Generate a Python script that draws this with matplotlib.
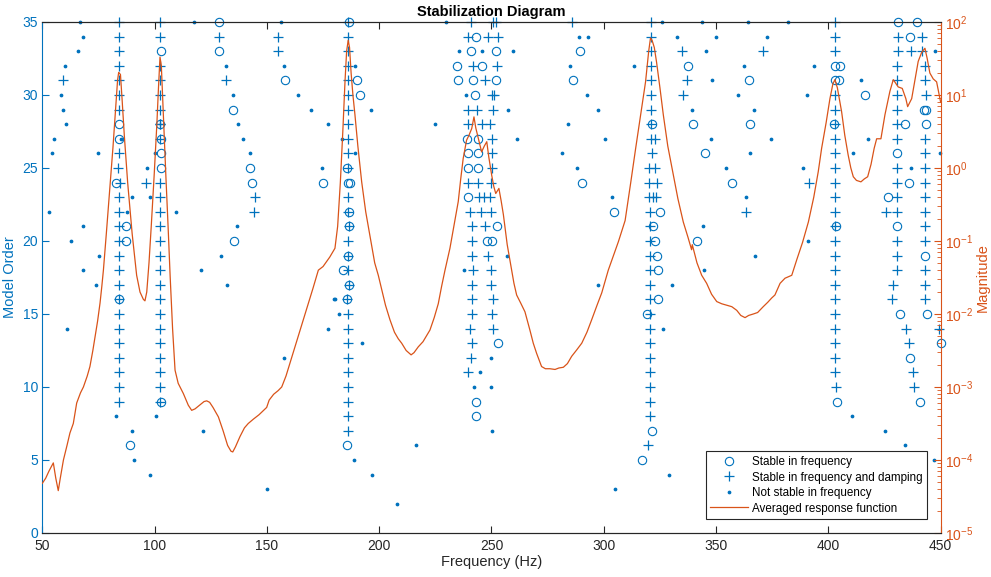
import numpy as np
import matplotlib
matplotlib.use("Agg")
import matplotlib.pyplot as plt
from matplotlib.ticker import FixedLocator, NullFormatter, LogFormatterMathtext

plt.rcParams['font.family'] = ['Liberation Sans', 'DejaVu Sans']

BLUE = '#0072BD'
ORANGE = '#D95319'
DARK = '#262626'

# ---------------- Data ----------------
# Stable in frequency and damping (+)
plus_hz = [
    # ~84 Hz column
    84.2, 84.2, 84.2, 84.2, 84.2, 84.2, 84.2, 84.2, 83.9, 84.5, 84.2, 84.2, 84.2,
    84.2, 84.2, 84.2, 84.2, 84.2, 84.2, 84.2, 84.2, 84.2, 84.2, 84.2, 84.2,
    # ~102 Hz column
    102.4, 102.4, 102.4, 102.4, 102.4, 102.4, 102.4, 102.4, 102.4, 102.4, 102.4,
    102.4, 102.4, 102.4, 102.4, 102.4, 102.4, 102.4, 102.4, 102.4, 102.4, 102.4,
    102.4, 102.4, 102.4,
    # scattered
    59.4, 96.0, 128.8, 155.1, 155.1, 131.9, 144.7, 144.4,
    # ~186 Hz column
    186.2, 186.2, 186.2, 186.2, 186.2, 186.2, 186.2, 186.2, 186.2, 186.2, 186.2,
    186.2, 186.2, 186.6, 186.2, 186.2, 186.2, 186.6, 185.5, 186.2, 186.2, 186.2,
    186.2, 186.2, 186.2, 186.2, 186.2, 186.2,
    # 240-253 Hz cluster
    240.7, 250.8, 251.9, 239.4, 248.6, 253.0, 241.6, 252.3, 247.1, 250.4, 251.2,
    239.4, 243.5, 250.8, 239.7, 245.9, 249.3, 250.1, 250.4, 250.1, 239.7, 244.0,
    249.8, 244.4, 246.8, 249.3, 240.4, 245.3, 249.8, 241.2, 247.1, 241.2, 241.2,
    248.6, 241.6, 249.8, 241.2, 249.8, 241.2, 250.6, 241.2, 250.1, 240.4, 250.6,
    241.2, 240.8, 239.4,
    285.7,
    # ~320 Hz column
    320.9, 320.9, 320.9, 320.9, 320.9, 320.9, 320.9, 320.9, 320.9, 322.8, 321.3,
    320.3, 322.8, 320.3, 323.5, 320.3, 321.9, 323.4,
    320.6, 320.6, 320.6, 320.6, 320.6, 320.6, 320.6, 320.6, 320.6, 320.6, 320.6,
    320.6, 320.6, 320.6, 320.6, 319.5,
    334.7, 336.9, 335.4, 371.0, 363.3, 391.5,
    # ~403 Hz column
    402.9, 402.9, 402.9, 402.9, 402.9, 402.9, 402.9, 402.9, 402.9, 402.9, 402.9,
    402.9, 402.9, 402.9, 402.9, 402.9, 402.9, 402.9, 402.9, 402.9, 402.9, 402.9,
    402.9, 403.5,
    # ~430 Hz column
    431.1, 431.1, 436.9, 430.4, 430.4, 430.4, 430.4, 430.4, 430.4, 430.4, 430.4,
    430.4, 425.6, 430.4, 430.4, 430.4, 430.4, 428.9, 428.5, 434.7, 436.1, 437.9,
    438.3,
    # ~443 Hz column
    441.5, 441.5, 443.0, 443.0, 443.3, 443.0, 443.0, 443.0, 443.0, 443.0, 443.0,
    443.0, 443.0, 443.0, 443.0, 443.0, 449.2,
]
plus_order = [
    35, 34, 33, 32, 31, 30, 29, 26, 25, 24, 23, 22, 21,
    20, 19, 18, 17, 16, 15, 14, 13, 12, 11, 10, 9,
    35, 34, 32, 31, 30, 29, 28, 27, 24, 23, 22,
    21, 20, 19, 18, 17, 16, 15, 14, 13, 12, 11,
    10, 9, 28,
    31, 24, 34, 34, 33, 31, 23, 22,
    35, 34, 33, 32, 31, 30, 29, 28, 27, 26, 25,
    23, 22, 21, 20, 19, 18, 17, 16, 15, 14, 13,
    12, 11, 10, 9, 8, 7,
    35, 35, 35, 34, 34, 34, 32, 32, 31, 30, 30,
    29, 29, 29, 28, 28, 28, 27, 26, 25, 24, 24,
    24, 23, 23, 23, 22, 22, 22, 21, 21, 20, 19,
    19, 18, 18, 17, 17, 16, 16, 15, 15, 14, 14,
    13, 12, 11,
    35,
    35, 34, 33, 32, 31, 30, 29, 28, 27, 27, 26,
    25, 25, 24, 24, 23, 23, 23,
    22, 21, 20, 19, 18, 17, 16, 15, 14, 13, 12,
    11, 10, 9, 8, 6,
    33, 31, 30, 33, 22, 24,
    35, 34, 33, 30, 29, 28, 27, 26, 25, 24, 23,
    22, 21, 20, 19, 18, 17, 16, 15, 14, 13, 12,
    11, 10,
    34, 33, 33, 32, 31, 30, 29, 28, 27, 25, 24,
    23, 22, 22, 20, 19, 18, 17, 16, 14, 13, 11,
    10,
    34, 33, 32, 31, 30, 27, 26, 25, 24, 23, 22,
    21, 20, 18, 17, 16, 14,
]

# Stable in frequency (o)
circ_hz = [
    84.0, 84.0, 82.7, 87.1, 87.1, 84.0, 89.2,
    102.7, 102.4, 102.7, 102.7, 102.7, 102.7,
    128.8, 128.8, 158.0, 134.7, 142.6, 143.3, 174.8, 135.5,
    186.4, 190.0, 191.5, 185.8, 186.2, 186.8, 186.6, 186.6, 186.2, 184.0, 186.6,
    185.5, 185.5,
    243.2, 241.0, 251.9, 234.5, 245.6, 234.9, 241.8, 251.9, 242.5, 238.9, 243.9,
    239.7, 243.8, 239.7, 244.0, 239.7, 252.3, 247.9, 250.1, 252.8, 243.2, 243.2,
    289.5, 286.2, 290.3, 304.4,
    321.3, 325.0, 322.0, 322.8, 323.8, 324.3, 324.0, 319.1, 321.5, 317.1,
    337.5, 364.6, 339.6, 365.2, 345.1, 357.2, 341.5,
    402.9, 405.1, 402.9, 404.7, 416.3, 402.6, 403.3, 403.7,
    431.1, 439.6, 436.3, 442.5, 443.3, 434.1, 443.3, 430.4, 435.9, 426.7, 430.4,
    443.0, 432.0, 443.8, 436.5, 440.8, 450.0,
]
circ_order = [
    28, 27, 24, 21, 20, 16, 6,
    33, 28, 27, 26, 25, 9,
    35, 33, 31, 29, 25, 24, 24, 20,
    35, 31, 30, 25, 24, 24, 22, 21, 19, 18, 17,
    16, 6,
    34, 33, 33, 32, 32, 31, 31, 31, 30, 27, 27,
    26, 26, 25, 25, 23, 21, 20, 20, 13, 9, 8,
    33, 31, 24, 22,
    28, 22, 21, 20, 19, 18, 16, 15, 7, 5,
    32, 31, 28, 28, 26, 24, 20,
    32, 32, 31, 31, 30, 28, 21, 9,
    35, 35, 34, 29, 29, 28, 28, 26, 24, 23, 21,
    19, 15, 15, 12, 9, 13,
]

# Not stable in frequency (.)
dot_hz = [
    66.8, 68.3, 65.8, 60.1, 58.3, 59.2, 60.6, 55.1, 85.0, 54.5, 74.7, 100.2, 96.5,
    89.9, 98.0, 52.8, 87.7, 109.5, 68.3, 62.8, 75.2, 68.3, 73.9, 60.9, 82.9, 100.6,
    90.1, 90.8, 98.0,
    117.7, 131.6, 157.4, 134.7, 164.0, 169.5, 137.2, 177.3, 139.5, 142.4, 174.5,
    136.7, 129.5, 120.8, 132.2, 180.0, 177.0, 157.7, 121.4, 150.2, 156.5,
    189.2, 196.5, 225.0, 183.4, 189.2, 180.2, 182.1, 192.3, 188.8, 196.8, 207.8,
    216.2, 229.6,
    235.5, 238.6, 245.6, 259.7, 289.1, 293.1, 285.1, 292.4, 257.3, 297.4, 284.2,
    261.2, 300.5, 281.3, 287.9, 303.6, 256.8, 237.8, 297.3, 249.8, 244.9, 242.3,
    249.8, 250.3, 304.9,
    325.8, 343.6, 364.3, 332.7, 349.8, 372.8, 345.5, 313.4, 362.3, 348.2, 359.9,
    339.3, 367.0, 347.6, 374.3, 365.2, 354.4, 363.3, 344.3, 367.3, 344.8, 330.2,
    326.5, 329.0,
    382.2, 447.5, 393.7, 414.5, 390.3, 417.5, 410.8, 449.8, 388.8, 436.7, 391.1,
    410.5, 425.3, 434.1, 447.1,
]
dot_order = [
    35, 34, 33, 32, 30, 29, 28, 27, 27, 26, 26, 26, 25,
    23, 23, 22, 22, 22, 21, 20, 19, 18, 17, 14, 8, 8,
    7, 5, 4,
    35, 32, 32, 30, 30, 29, 28, 28, 27, 26, 25,
    21, 19, 18, 17, 16, 14, 12, 7, 3, 35,
    32, 29, 28, 27, 26, 16, 15, 13, 5, 4, 2,
    6, 35,
    33, 30, 33, 33, 34, 34, 32, 30, 29, 29, 28,
    27, 27, 26, 25, 23, 19, 18, 17, 12, 11, 10,
    10, 7, 3,
    35, 35, 35, 34, 34, 34, 33, 32, 32, 31, 30,
    29, 29, 27, 27, 26, 25, 23, 21, 19, 18, 17,
    14, 4,
    35, 33, 32, 31, 30, 27, 26, 26, 25, 25, 20,
    8, 7, 6, 5,
]

# Averaged response function (frequency in Hz, log10 of magnitude)
resp_hz = [
    50.0, 51.5, 53.0, 54.9, 56.0, 57.1, 58.0, 59.4, 61.0, 62.3, 63.8, 65.3, 67.0,
    68.3, 70.0, 71.2, 72.5, 73.5, 74.6, 75.7, 76.5, 77.2, 78.5, 80.0, 81.5, 82.7,
    83.5, 84.0, 84.8, 85.5, 86.5, 88.0, 90.0, 92.0, 93.5, 95.0, 95.7, 96.5, 97.5,
    98.5, 99.8, 101.0, 101.8, 102.4, 103.0, 103.8, 105.0, 106.0, 106.9, 108.0,
    109.1, 110.5, 112.8, 115.0, 116.5, 118.0, 120.0, 122.0, 123.2, 124.5, 126.0,
    128.4, 130.5, 132.5, 134.0, 134.8, 136.0, 138.0, 140.0, 141.7, 144.0, 146.5,
    148.5, 149.9, 151.0, 153.0, 155.0, 156.6, 158.5, 160.5, 162.5, 164.5, 166.5,
    168.4, 170.5, 172.9, 175.0, 178.0, 180.3, 181.5, 182.7, 183.8, 184.8, 185.5,
    186.2, 186.8, 187.5, 188.3, 189.2, 190.5, 192.2, 194.0, 196.0, 198.0, 199.6,
    201.0, 202.8, 204.8, 206.8, 208.5, 210.0, 212.0, 214.2, 215.5, 217.4, 219.5,
    222.6, 224.5, 226.3, 227.8, 229.3, 231.5, 233.5, 235.2, 236.3, 237.4, 238.9,
    240.0, 241.2, 242.2, 243.0, 244.1, 245.6, 246.8, 247.9, 248.8, 250.1, 251.0,
    251.9, 253.3, 254.3, 255.3, 257.0, 259.0, 260.0, 261.2, 263.0, 264.9, 267.1,
    268.6, 270.1, 272.3, 274.0, 276.0, 278.3, 280.0, 282.0, 283.8, 285.7, 288.0,
    290.2, 292.5, 294.6, 297.0, 299.1, 302.0, 304.3, 306.5, 309.5, 312.0, 314.2,
    316.5, 318.6, 320.0, 320.8, 321.5, 322.5, 323.5, 325.0, 326.5, 328.5, 331.0,
    333.0, 335.4, 337.5, 339.1, 339.4, 341.5, 343.6, 345.8, 348.0, 350.3, 352.5,
    354.7, 357.0, 359.2, 361.0, 362.9, 364.5, 366.6, 368.5, 371.0, 373.0, 374.8,
    376.2, 378.5, 380.7, 383.7, 386.0, 388.5, 391.1, 393.5, 395.5, 397.0, 399.0,
    400.7, 402.0, 402.9, 404.0, 405.9, 407.3, 408.8, 410.0, 411.1, 412.5, 414.5,
    416.0, 417.5, 419.0, 420.4, 421.5, 423.4, 425.2, 427.4, 428.9, 431.1, 432.9,
    434.5, 435.3, 437.1, 438.5, 440.0, 441.5, 443.0, 444.0, 445.2, 446.7, 448.2,
    450.0,
]
resp_log10 = [
    -4.32, -4.25, -4.15, -4.04, -4.25, -4.42, -4.25, -4.00, -3.80, -3.63, -3.50, -3.22, -3.08,
    -3.00, -2.85, -2.72, -2.50, -2.31, -2.10, -1.85, -1.62, -1.40, -0.90, -0.30, 0.30, 0.85,
    1.20, 1.31, 1.28, 0.95, 0.45, -0.20, -0.90, -1.47, -1.70, -1.80, -1.82, -1.70, -1.30,
    -0.80, -0.10, 0.60, 1.15, 1.52, 1.40, 0.80, -0.10, -0.80, -1.47, -2.20,
    -2.77, -2.95, -3.09, -3.25, -3.32, -3.30, -3.25, -3.20, -3.19, -3.21, -3.28,
    -3.41, -3.60, -3.80, -3.88, -3.89, -3.82, -3.68, -3.56, -3.50, -3.44, -3.38,
    -3.32, -3.28, -3.18, -3.10, -3.05, -3.00, -2.85, -2.65, -2.45, -2.25, -2.05,
    -1.86, -1.65, -1.40, -1.35, -1.22, -1.10, -0.80, -0.20, 0.50, 1.20, 1.60,
    1.75, 1.65, 1.30, 1.00, 0.73, 0.30, -0.19, -0.60, -0.95, -1.30, -1.47,
    -1.65, -1.88, -2.08, -2.25, -2.34, -2.40, -2.50, -2.56, -2.53, -2.45, -2.38,
    -2.22, -2.05, -1.86, -1.62, -1.40, -1.10, -0.75, -0.46, -0.15, 0.13, 0.38,
    0.45, 0.54, 0.70, 0.55, 0.41, 0.22, 0.30, 0.36, 0.15, -0.10, -0.25,
    -0.35, -0.28, -0.45, -0.64, -1.05, -1.40, -1.58, -1.74, -1.85, -1.97, -2.22,
    -2.40, -2.54, -2.72, -2.75, -2.75, -2.76, -2.74, -2.73, -2.68, -2.58, -2.49,
    -2.40, -2.25, -2.08, -1.88, -1.71, -1.40, -1.20, -1.01, -0.72, -0.20, 0.27,
    0.75, 1.18, 1.60, 1.78, 1.75, 1.65, 1.45, 1.10, 0.73, 0.30, -0.10,
    -0.42, -0.74, -0.95, -1.12, -1.05, -1.30, -1.47, -1.58, -1.73, -1.83, -1.86,
    -1.88, -1.90, -1.95, -2.02, -2.05, -2.02, -2.00, -1.98, -1.90, -1.84, -1.78,
    -1.74, -1.58, -1.51, -1.47, -1.25, -1.02, -0.74, -0.40, -0.05, 0.27, 0.62,
    0.95, 1.15, 1.21, 1.10, 0.77, 0.45, 0.18, 0.00, -0.12, -0.17, -0.19,
    -0.15, -0.12, 0.05, 0.27, 0.40, 0.40, 0.73, 1.05, 1.21, 1.11, 1.09,
    0.95, 0.84, 0.95, 1.20, 1.46, 1.58, 1.64, 1.50, 1.30, 1.22, 1.18,
    0.90,
]

x_ticks = [50, 100, 150, 200, 250, 300, 350, 400, 450]
order_ticks = [0, 5, 10, 15, 20, 25, 30, 35]
mag_ticks = [1e-5, 1e-4, 1e-3, 1e-2, 1e-1, 1e0, 1e1, 1e2]

# ---------------- Figure ----------------
fig = plt.figure(figsize=(9.91, 5.77), dpi=100)
ax = fig.add_axes([0.0427, 0.0763, 0.9065, 0.8856])
ax2 = ax.twinx()

h_circ, = ax.plot(circ_hz, circ_order, linestyle='none', marker='o', ms=6.0,
                  mfc='none', mec=BLUE, mew=0.8, clip_on=False, label='Stable in frequency')
h_plus, = ax.plot(plus_hz, plus_order, linestyle='none', marker='+', ms=7,
                  mec=BLUE, mew=0.9, clip_on=False, label='Stable in frequency and damping')
h_dot, = ax.plot(dot_hz, dot_order, linestyle='none', marker='.', ms=3.4,
                 mec=BLUE, mfc=BLUE, clip_on=False, label='Not stable in frequency')

h_line, = ax2.plot(resp_hz, 10.0 ** np.array(resp_log10), color=ORANGE, lw=0.9,
                   label='Averaged response function')
ax2.set_yscale('log')
ax2.set_ylim(1e-5, 1e2)

ax.set_xlim(50, 450)
ax.set_ylim(0, 35)
ax.set_xticks(x_ticks)
ax.set_yticks(order_ticks)

# styling
for a in (ax, ax2):
    a.spines['top'].set_color(DARK)
    a.spines['bottom'].set_color(DARK)
    for s in a.spines.values():
        s.set_linewidth(0.8)
ax.spines['left'].set_color(BLUE)
ax.spines['right'].set_visible(False)
ax2.spines['left'].set_visible(False)
ax2.spines['right'].set_color(ORANGE)

ax.tick_params(axis='x', direction='in', top=True, bottom=True, length=5,
               width=0.8, colors=DARK, labelsize=10, pad=4)
ax.tick_params(axis='y', direction='in', left=True, right=False, length=5,
               width=0.8, colors=BLUE, labelsize=10, pad=3)
ax2.tick_params(axis='y', which='major', direction='in', length=5, width=0.8,
                colors=ORANGE, labelsize=10, pad=3)
ax2.tick_params(axis='y', which='minor', direction='in', length=3, width=0.6,
                colors=ORANGE)
ax2.yaxis.set_major_locator(FixedLocator(mag_ticks))
ax2.yaxis.set_major_formatter(LogFormatterMathtext())
minor_ticks = [m * d for d in mag_ticks[:-1] for m in range(2, 10)]
ax2.yaxis.set_minor_locator(FixedLocator(minor_ticks))
ax2.yaxis.set_minor_formatter(NullFormatter())

ax.set_xlabel('Frequency (Hz)', fontsize=10.5, color=DARK, labelpad=2)
ax.set_ylabel('Model Order', fontsize=10.5, color=BLUE, labelpad=4)
ax2.set_ylabel('Magnitude', fontsize=10.5, color=ORANGE, labelpad=2)
ax.set_title('Stabilization Diagram', fontsize=10.5, fontweight='bold',
             color='black', pad=4)

leg = ax2.legend(handles=[h_circ, h_plus, h_dot, h_line], loc='lower right',
                 bbox_to_anchor=(0.985, 0.027), fontsize=8.4, frameon=True,
                 fancybox=False, edgecolor=DARK, framealpha=1, numpoints=1,
                 handlelength=3.25, borderpad=0.4, labelspacing=0.3,
                 handletextpad=0.3, borderaxespad=0)
leg.get_frame().set_linewidth(0.8)

fig.savefig('out.png', dpi=100)
